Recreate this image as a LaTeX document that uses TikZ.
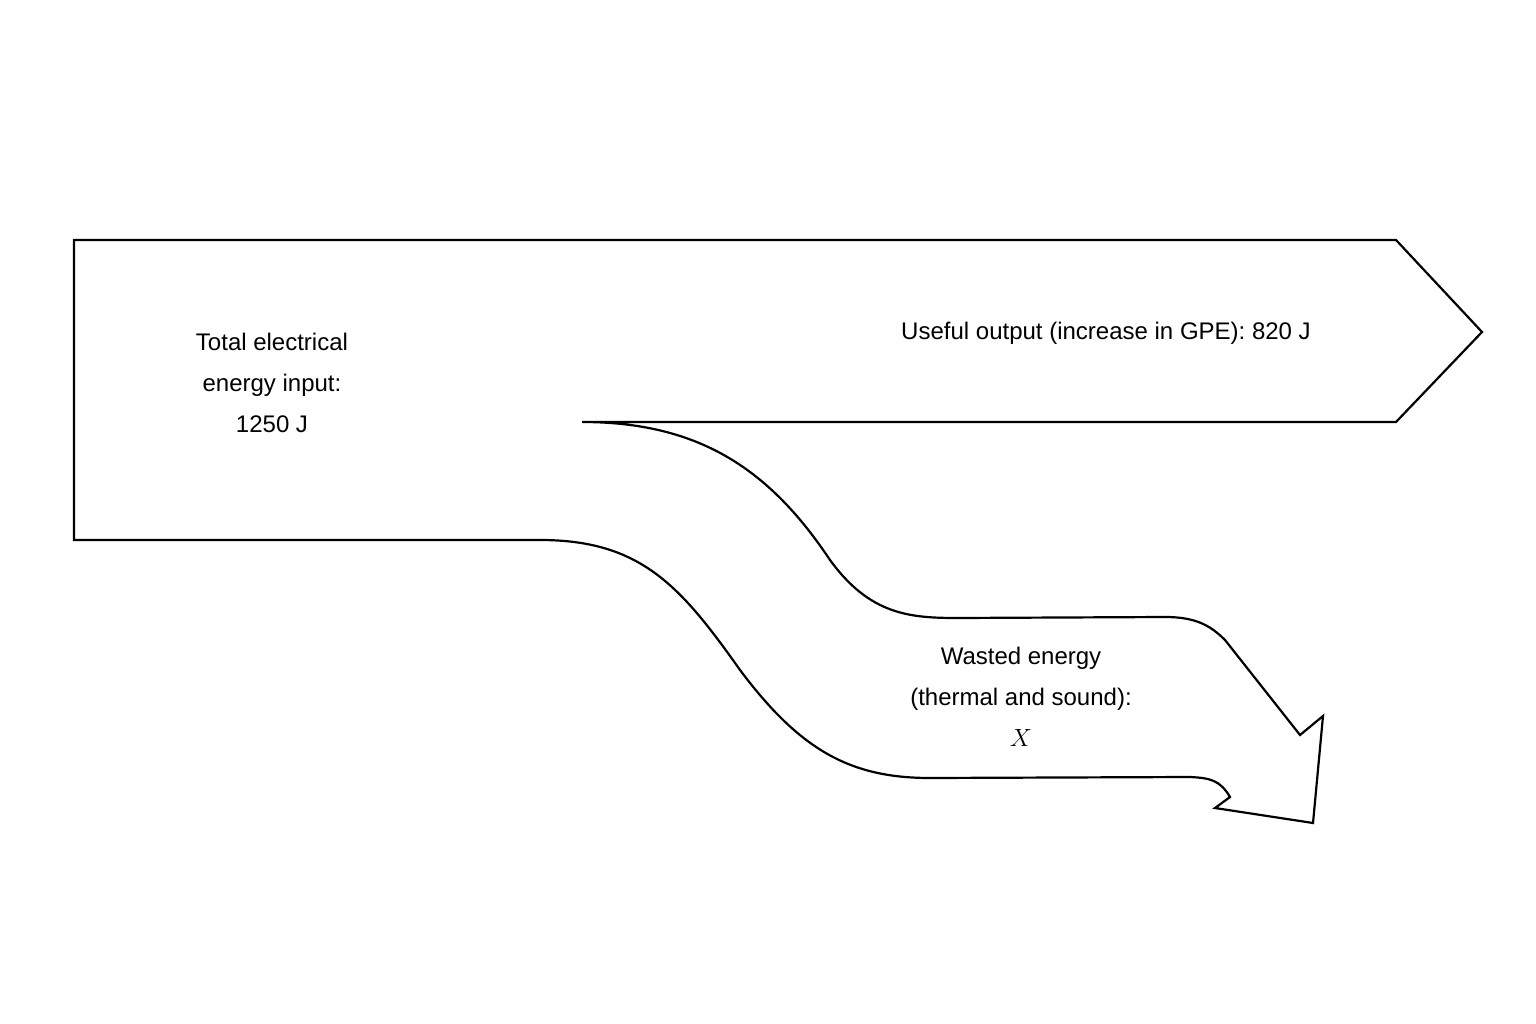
\documentclass[tikz,border=0pt]{standalone}
\usepackage{fontspec}
\setmainfont{Liberation Sans}
\usetikzlibrary{positioning}
\tikzset{
  flow/.style={draw=black, line width=2.2pt, line join=miter, fill=white},
  lbl/.style={align=center, font=\fontsize{24}{41}\selectfont, inner sep=0pt}
}
\begin{document}
\begin{tikzpicture}[x=1pt,y=-1pt]
  \useasboundingbox (0,0) rectangle (1536,1024);
  % outline of the energy flow
  \draw[flow] (74,240) -- (1396,240) -- (1482,332) -- (1396,422) -- (582,422)
    .. controls (700,422) and (770,470) .. (830,560)
    .. controls (870,615) and (910,618) .. (958,618) -- (1165,617)
    .. controls (1195,617) and (1210,625) .. (1225,640) -- (1300,735)
    -- (1323,716) -- (1313,823) -- (1215,808) -- (1230,797)
    .. controls (1220,780) and (1210,778) .. (1190,777) -- (930,778)
    .. controls (850,778) and (800,750) .. (740,670)
    .. controls (680,585) and (640,540) .. (540,540) -- (74,540) -- cycle;
  % labels
  \node[lbl] (input) at (272,383) {Total electrical\\energy input:\\1250 J};
  \node[lbl] (useful) at (1106,333) {Useful output (increase in GPE): 820 J};
  \node[lbl] (waste) at (1021,697) {Wasted energy\\(thermal and sound):\\$X$};
\end{tikzpicture}
\end{document}
